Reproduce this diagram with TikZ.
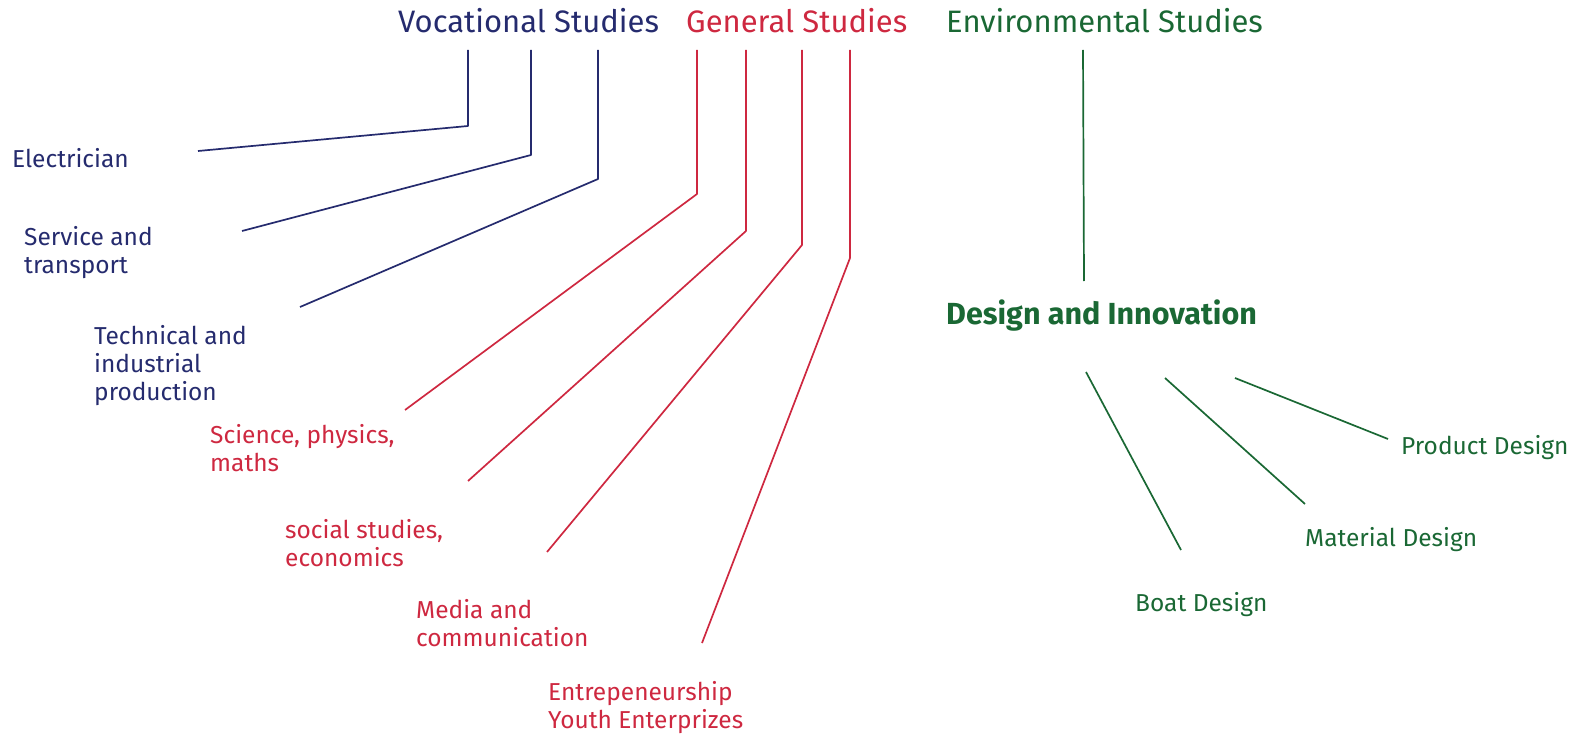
\documentclass[tikz,border=0pt]{standalone}
\usepackage{fontspec}
\setmainfont{Fira Sans}
\definecolor{vocblue}{RGB}{37,43,110}
\definecolor{genred}{RGB}{206,40,64}
\definecolor{envgreen}{RGB}{26,104,52}
\begin{document}
\begin{tikzpicture}[x=1pt,y=-1pt]
  \tikzstyle{head}=[anchor=west, inner sep=0pt, font=\fontsize{31}{36}\selectfont]
  \tikzstyle{leaf}=[anchor=west, inner sep=0pt, align=left, font=\fontsize{24.5}{28}\selectfont]
  \tikzstyle{link}=[line width=1.7pt, line join=round]
  \useasboundingbox (0,0) rectangle (1573,738);
  % headings
  \node[head, vocblue] (voc) at (398,21) {Vocational Studies};
  \node[head, genred] (gen) at (686,21) {General Studies};
  \node[head, envgreen] (env) at (946,21) {Environmental Studies};
  \node[head, envgreen, font=\fontsize{30.5}{36}\selectfont\bfseries] (design) at (946,316) {Design and Innovation};
  % vocational
  \node[leaf, vocblue] (elec) at (12,158) {Electrician};
  \node[leaf, vocblue] (serv) at (24,253) {Service and\\transport};
  \node[leaf, vocblue] (tech) at (94,366) {Technical and\\industrial\\production};
  % general
  \node[leaf, genred] (sci) at (210,448) {Science, physics,\\maths};
  \node[leaf, genred] (soc) at (285,543) {social studies,\\economics};
  \node[leaf, genred] (media) at (416,623) {Media and\\communication};
  \node[leaf, genred] (entre) at (548,708) {Entrepeneurship\\Youth Enterprizes};
  % environmental
  \node[leaf, envgreen] (prod) at (1401,448) {Product Design};
  \node[leaf, envgreen] (mat) at (1305,540) {Material Design};
  \node[leaf, envgreen] (boat) at (1135,605) {Boat Design};
  % connectors
  \foreach \i/\xa/\yk/\xe/\ye in {1/468/126/198/151, 2/531/155/242/231, 3/598/179/300/307}{
    \coordinate (v\i) at (\xa,50);
    \coordinate (v\i k) at (\xa,\yk);
    \coordinate (v\i e) at (\xe,\ye);
    \draw[link, vocblue] (v\i) -- (v\i k) -- (v\i e);
  }
  \foreach \i/\xa/\yk/\xe/\ye in {1/697/194/405/410, 2/746/231/468/481, 3/802/245/547/552, 4/850/258/702/643}{
    \coordinate (g\i) at (\xa,50);
    \coordinate (g\i k) at (\xa,\yk);
    \coordinate (g\i e) at (\xe,\ye);
    \draw[link, genred] (g\i) -- (g\i k) -- (g\i e);
  }
  \coordinate (e0) at (1083,50);
  \coordinate (e0e) at (1084,281);
  \draw[link, envgreen] (e0) -- (e0e);
  \foreach \i/\xa/\ya/\xe/\ye in {1/1086/372/1181/550, 2/1165/378/1305/504, 3/1235/378/1388/439}{
    \coordinate (d\i) at (\xa,\ya);
    \coordinate (d\i e) at (\xe,\ye);
    \draw[link, envgreen] (d\i) -- (d\i e);
  }
\end{tikzpicture}
\end{document}
